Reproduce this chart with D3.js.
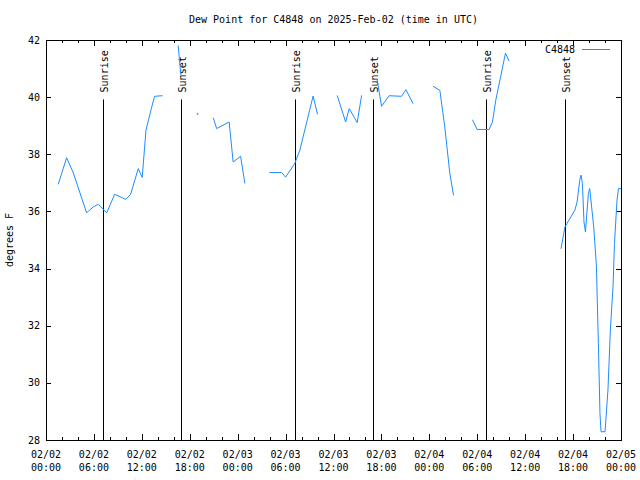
<!DOCTYPE html>
<html><head><meta charset="utf-8">
<script src="https://cdn.jsdelivr.net/npm/d3@7"></script>
<style>
body{margin:0;background:#fff;}
text{font-family:"DejaVu Sans Mono",monospace;font-size:10px;fill:#000;}
</style></head>
<body><svg id="c" width="640" height="480"></svg>
<script>
const titleText = "Dew Point for C4848 on 2025-Feb-02 (time in UTC)";
const seriesName = "C4848";
const yLabel = "degrees F";
// observation times (UTC); null values mark gaps in the record
const times = [
 "2025-02-02T01:32","2025-02-02T02:35","2025-02-02T03:25","2025-02-02T05:05","2025-02-02T05:55","2025-02-02T06:33","2025-02-02T07:36","2025-02-02T08:36","2025-02-02T10:00","2025-02-02T10:36","2025-02-02T11:33","2025-02-02T12:03","2025-02-02T12:31","2025-02-02T13:14","2025-02-02T13:36","2025-02-02T14:36",
 "2025-02-02T15:30",
 "2025-02-02T16:33","2025-02-02T16:54",
 "2025-02-02T17:50",
 "2025-02-02T18:56",
 "2025-02-02T20:00",
 "2025-02-02T20:56","2025-02-02T21:22","2025-02-02T22:56","2025-02-02T23:26","2025-02-03T00:22","2025-02-03T00:54",
 "2025-02-03T02:00",
 "2025-02-03T03:57","2025-02-03T05:30","2025-02-03T06:00","2025-02-03T07:08","2025-02-03T07:47","2025-02-03T09:27","2025-02-03T10:00",
 "2025-02-03T11:00",
 "2025-02-03T12:28","2025-02-03T13:31","2025-02-03T13:58","2025-02-03T14:58","2025-02-03T15:31",
 "2025-02-03T16:30",
 "2025-02-03T17:28","2025-02-03T18:01","2025-02-03T18:58","2025-02-03T20:31","2025-02-03T21:04","2025-02-03T21:58",
 "2025-02-03T23:00",
 "2025-02-04T00:28","2025-02-04T01:19","2025-02-04T01:56","2025-02-04T02:34","2025-02-04T03:02",
 "2025-02-04T04:00",
 "2025-02-04T05:24","2025-02-04T05:59","2025-02-04T07:29","2025-02-04T07:54","2025-02-04T08:19","2025-02-04T09:32","2025-02-04T09:59",
 "2025-02-04T12:00",
 "2025-02-04T16:29","2025-02-04T16:59","2025-02-04T18:13","2025-02-04T18:30","2025-02-04T18:50","2025-02-04T19:00","2025-02-04T19:10","2025-02-04T19:22","2025-02-04T19:33","2025-02-04T19:55","2025-02-04T20:05","2025-02-04T20:35","2025-02-04T20:55","2025-02-04T21:10","2025-02-04T21:22","2025-02-04T21:30","2025-02-04T22:00","2025-02-04T22:22","2025-02-04T22:40","2025-02-04T23:00","2025-02-04T23:11","2025-02-04T23:30","2025-02-04T23:41","2025-02-05T00:00"
];
const dewpoints = [
 36.95,37.88,37.35,35.95,36.16,36.25,35.95,36.6,36.42,36.6,37.5,37.19,38.84,39.65,40.03,40.05,
 null,
 41.81,40.74,
 null,
 39.42,
 null,
 39.28,38.9,39.13,37.73,37.93,36.98,
 null,
 37.36,37.36,37.2,37.67,38.14,40.04,39.4,
 null,
 40.06,39.13,39.6,39.11,40.06,
 null,
 40.61,39.68,40.05,40.03,40.26,39.77,
 null,
 40.38,40.24,38.96,37.33,36.56,
 null,
 39.21,38.87,38.87,39.13,39.89,41.54,41.26,
 null,
 34.69,35.46,36.04,36.33,37.09,37.27,36.98,35.63,35.28,36.63,36.8,35.46,34.12,31.38,28.93,28.29,28.29,29.75,31.85,33.36,34.88,36.39,36.8,36.8
];
const sunTimes = ["2025-02-02T07:10","2025-02-02T16:56","2025-02-03T07:08","2025-02-03T16:58","2025-02-04T07:06","2025-02-04T16:59"];
const sunLabels = ["Sunrise","Sunset","Sunrise","Sunset","Sunrise","Sunset"];
const yTicks = [28,30,32,34,36,38,40,42];
const xStart = "2025-02-02T00:00", xEnd = "2025-02-05T00:00";
const markerTop = 39.92;

const parse = s => new Date(s + ":00Z");
const data = times.map((t,i)=>({t:parse(t), v:dewpoints[i]}));

const svg = d3.select("#c");
const L=46, R=621, T=40, B=440;
const x = d3.scaleUtc().domain([parse(xStart), parse(xEnd)]).range([L,R]);
const y = d3.scaleLinear().domain([28,42]).range([B,T]);
const color = "#1e8cff";

// title
svg.append("text").attr("x",(L+R)/2).attr("y",23).attr("text-anchor","middle").text(titleText);
// y label
svg.append("text").attr("transform",`translate(13,${(T+B)/2}) rotate(-90)`).attr("text-anchor","middle").text(yLabel);

// axes with inward ticks
const major = d3.utcHour.every(6).range(parse(xStart), d3.utcHour.offset(parse(xEnd),1));
const minor = d3.utcHour.every(2).range(parse(xStart), d3.utcHour.offset(parse(xEnd),1)).filter(d=>d.getUTCHours()%6!==0);
const g = svg.append("g").attr("shape-rendering","crispEdges").attr("stroke","#000");
// bottom / top major
g.append("g").attr("transform",`translate(0,${B})`).call(d3.axisBottom(x).tickValues(major).tickSize(-6).tickFormat(""))
 .call(a=>a.select(".domain").remove());
g.append("g").attr("transform",`translate(0,${T})`).call(d3.axisTop(x).tickValues(major).tickSize(-6).tickFormat(""))
 .call(a=>a.select(".domain").remove());
g.append("g").attr("transform",`translate(0,${B})`).call(d3.axisBottom(x).tickValues(minor).tickSize(-3).tickFormat(""))
 .call(a=>a.select(".domain").remove());
g.append("g").attr("transform",`translate(0,${T})`).call(d3.axisTop(x).tickValues(minor).tickSize(-3).tickFormat(""))
 .call(a=>a.select(".domain").remove());
g.append("g").attr("transform",`translate(${L},0)`).call(d3.axisLeft(y).tickValues(yTicks).tickSize(-5).tickFormat(""))
 .call(a=>a.select(".domain").remove());
g.append("g").attr("transform",`translate(${R},0)`).call(d3.axisRight(y).tickValues(yTicks).tickSize(-5).tickFormat(""))
 .call(a=>a.select(".domain").remove());
svg.selectAll(".tick line").attr("stroke","#000");
svg.selectAll(".tick text").remove();

// y tick labels
svg.append("g").selectAll("text").data(yTicks).join("text")
 .attr("x",L-6).attr("y",d=>y(d)+3.5).attr("text-anchor","end").text(d=>d);
// x tick labels
const fmtD = d3.utcFormat("%m/%d"), fmtH = d3.utcFormat("%H:%M");
const xl = svg.append("g").selectAll("text").data(major).join("text").attr("text-anchor","middle");
xl.append("tspan").attr("x",d=>x(d)).attr("y",458).text(d=>fmtD(d));
xl.append("tspan").attr("x",d=>x(d)).attr("y",471).text(d=>fmtH(d));

// sunrise / sunset markers
const sun = sunTimes.map((s,i)=>({t:parse(s), label:sunLabels[i]}));
svg.append("g").selectAll("line").data(sun).join("line")
 .attr("x1",d=>Math.round(x(d.t))+0.5).attr("x2",d=>Math.round(x(d.t))+0.5)
 .attr("y1",y(markerTop)).attr("y2",B).attr("stroke","#000").attr("stroke-width",1);
svg.append("g").selectAll("text").data(sun).join("text")
 .attr("transform",d=>`translate(${Math.round(x(d.t))+5},${y(markerTop)-7}) rotate(-90)`)
 .attr("text-anchor","start").text(d=>d.label);

// data line
const line = d3.line().defined(d=>d.v!==null).x(d=>x(d.t)).y(d=>y(d.v));
svg.append("path").datum(data).attr("d",line).attr("fill","none").attr("stroke",color).attr("stroke-width",1);
// isolated points
const iso = data.filter((d,i)=>d.v!==null && (i===0||data[i-1].v===null) && (i===data.length-1||data[i+1].v===null));
svg.append("g").selectAll("rect").data(iso).join("rect")
 .attr("x",d=>x(d.t)-0.5).attr("y",d=>y(d.v)-0.5).attr("width",1.5).attr("height",1.5).attr("fill",color);

// border
svg.append("rect").attr("x",L+0.5).attr("y",T+0.5).attr("width",R-L).attr("height",B-T)
 .attr("fill","none").attr("stroke","#000").attr("shape-rendering","crispEdges");

// legend
svg.append("text").attr("x",575).attr("y",52.5).attr("text-anchor","end").text(seriesName);
svg.append("line").attr("x1",582).attr("x2",610).attr("y1",49.5).attr("y2",49.5).attr("stroke",color).attr("stroke-width",1);
</script></body></html>
